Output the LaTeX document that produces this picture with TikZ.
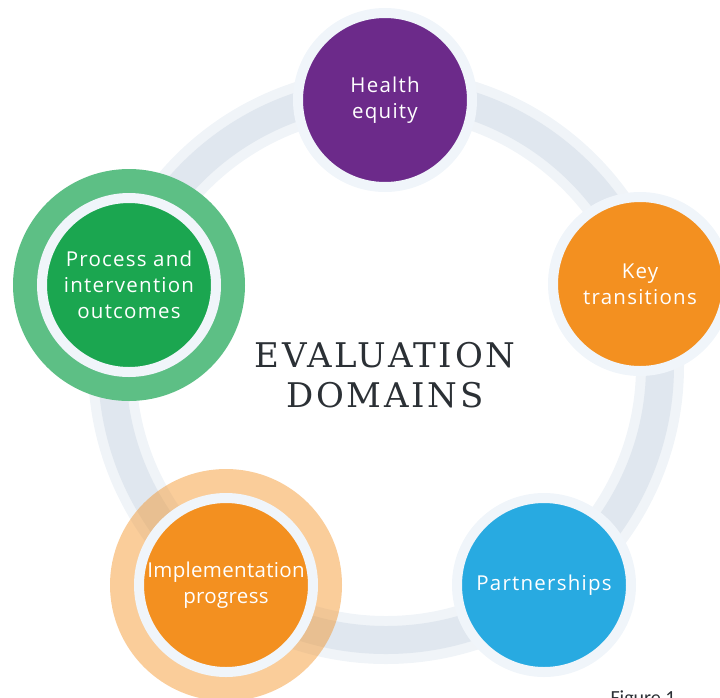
\documentclass[tikz,border=0pt]{standalone}
\usepackage{fontspec}
\setmainfont{Open Sans}
\newfontfamily\lblfont[LetterSpace=6]{Open Sans}
\newfontfamily\lbltight[LetterSpace=1.5]{Open Sans}
\newfontfamily\ttlfont[LetterSpace=8]{DejaVu Serif}
\newfontfamily\capfont{Carlito}
\definecolor{hepurple}{HTML}{6C2A8A}
\definecolor{ktorange}{HTML}{F39020}
\definecolor{ptblue}{HTML}{28AAE1}
\definecolor{pogreen}{HTML}{1BA650}
\definecolor{poring}{HTML}{5DBF85}
\definecolor{halo}{HTML}{F0F5FA}
\definecolor{bandedge}{HTML}{F0F4F8}
\definecolor{band}{HTML}{E0E7EF}
\definecolor{ttlgray}{HTML}{2B3035}
\tikzset{
  dom/.style={circle,inner sep=0pt,minimum size=174pt,draw=halo,line width=10pt,
    text=white,align=center,font=\lblfont\fontsize{20.5}{26}\selectfont},
  purpledom/.style={dom,fill=hepurple},
  orangedom/.style={dom,fill=ktorange},
  bluedom/.style={dom,fill=ptblue},
  greendom/.style={dom,fill=pogreen},
  focusring/.style={circle,inner sep=0pt,minimum size=232pt},
  greenring/.style={focusring,fill=poring},
  orangering/.style={focusring,fill=ktorange,fill opacity=0.45},
  ttl/.style={font=\ttlfont\fontsize{34}{40}\selectfont,text=ttlgray,align=center}
}

\begin{document}
\begin{tikzpicture}[x=1pt,y=-1pt]
  \useasboundingbox (0,0) rectangle (720,697);
  \coordinate (ctr) at (386,366);

  % grey track behind the five domains
  \draw[bandedge,line width=48pt] (ctr) circle[radius=274pt];
  \draw[band,line width=28pt] (ctr) circle[radius=274pt];

  % highlight rings
  \node[greenring] (outring) at (129,285) {};
  \node[orangering] (implring) at (226,585) {};

  \node[purpledom] (equity) at (385,100) {Health\\equity};
  \node[orangedom] (transit) at (640,284) {Key\\transitions};
  \node[bluedom] (partner) at (544,585) {Partnerships};
  % long word, so less tracking
  \node[orangedom,font=\lbltight\fontsize{20.5}{26}\selectfont] (impl) at (226,585) {Implementation\\progress};
  \node[greendom] (outcomes) at (129,285) {Process and\\intervention\\outcomes};

  \node[ttl] (title) at (385,375) {EVALUATION\\DOMAINS};
  \node[font=\capfont\fontsize{20}{24}\selectfont,text=ttlgray,anchor=base west] (figcap) at (607,704) {Figure 1};
\end{tikzpicture}
\end{document}
